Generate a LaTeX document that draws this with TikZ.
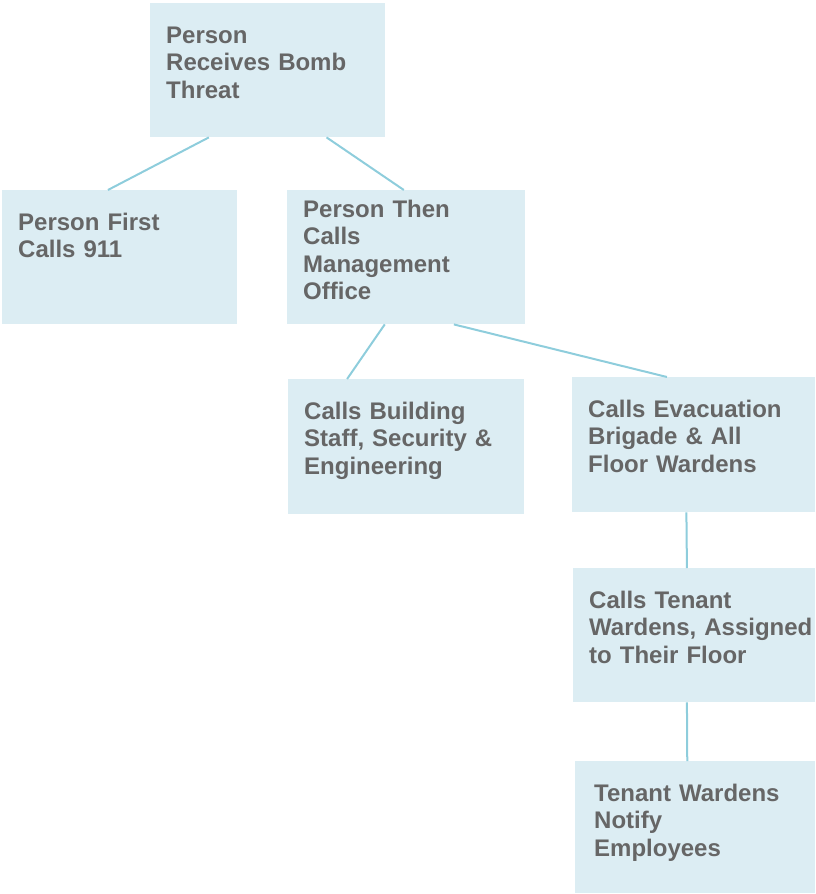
\documentclass[tikz,border=0pt]{standalone}
\usepackage{fontspec}
\setmainfont{Liberation Sans}
\usepackage{xcolor}
\usepackage{tikz}
\usetikzlibrary{calc}

\definecolor{cardfill}{HTML}{DCEDF3}
\definecolor{linkblue}{HTML}{8ECDDC}
\definecolor{cardtext}{HTML}{666666}

\begin{document}
\begin{tikzpicture}[
    x=1pt, y=-1pt,
    font=\fontsize{24}{27.5}\selectfont\bfseries,
    card/.style={fill=cardfill, text=cardtext, anchor=north west, align=left,
      inner xsep=16pt, inner ysep=0pt, text width=#1,
      text height=40pt, text depth=94pt},
    card/.default=204pt,
    link/.style={draw=linkblue, line width=2pt},
  ]
  \useasboundingbox (0,0) rectangle (816,894);

  %% ---- call chain ------------------------------------------------------
  \node[card=203pt] (threat) at (150,3) {Person\\Receives Bomb\\Threat};
  \node[card=203pt] (first)  at (2,190) {Person First\\Calls 911};
  \node[card=206pt, text height=27pt, text depth=107pt] (office) at (287,190)
    {Person Then\\Calls\\Management\\Office};
  \node[card=204pt, text depth=95pt] (staff) at (288,379)
    {Calls Building\\Staff, Security \&\\Engineering};
  \node[card=211pt, text depth=95pt] (brigade) at (572,377)
    {Calls Evacuation\\Brigade \& All\\Floor Wardens};
  \node[card=210pt] (tenant) at (573,568)
    {Calls Tenant\\\mbox{Wardens, Assigned}\\to Their Floor};
  \node[card=202pt, inner xsep=19pt, text depth=92pt] (notify) at (575,761)
    {Tenant Wardens\\Notify\\Employees};

  %% ---- links -----------------------------------------------------------
  \draw[link] ($(threat.south west)!0.25!(threat.south east)$)
    -- ($(first.north west)!0.45!(first.north east)$);
  \draw[link] ($(threat.south west)!0.75!(threat.south east)$)
    -- ($(office.north west)!0.49!(office.north east)$);
  \draw[link] ($(office.south west)!0.41!(office.south east)$)
    -- ($(staff.north west)!0.25!(staff.north east)$);
  \draw[link] ($(office.south west)!0.70!(office.south east)$)
    -- ($(brigade.north west)!0.39!(brigade.north east)$);
  \draw[link] ($(brigade.south west)!0.47!(brigade.south east)$)
    -- ($(tenant.north west)!0.47!(tenant.north east)$);
  \draw[link] ($(tenant.south west)!0.47!(tenant.south east)$)
    -- ($(notify.north west)!0.467!(notify.north east)$);
\end{tikzpicture}
\end{document}
